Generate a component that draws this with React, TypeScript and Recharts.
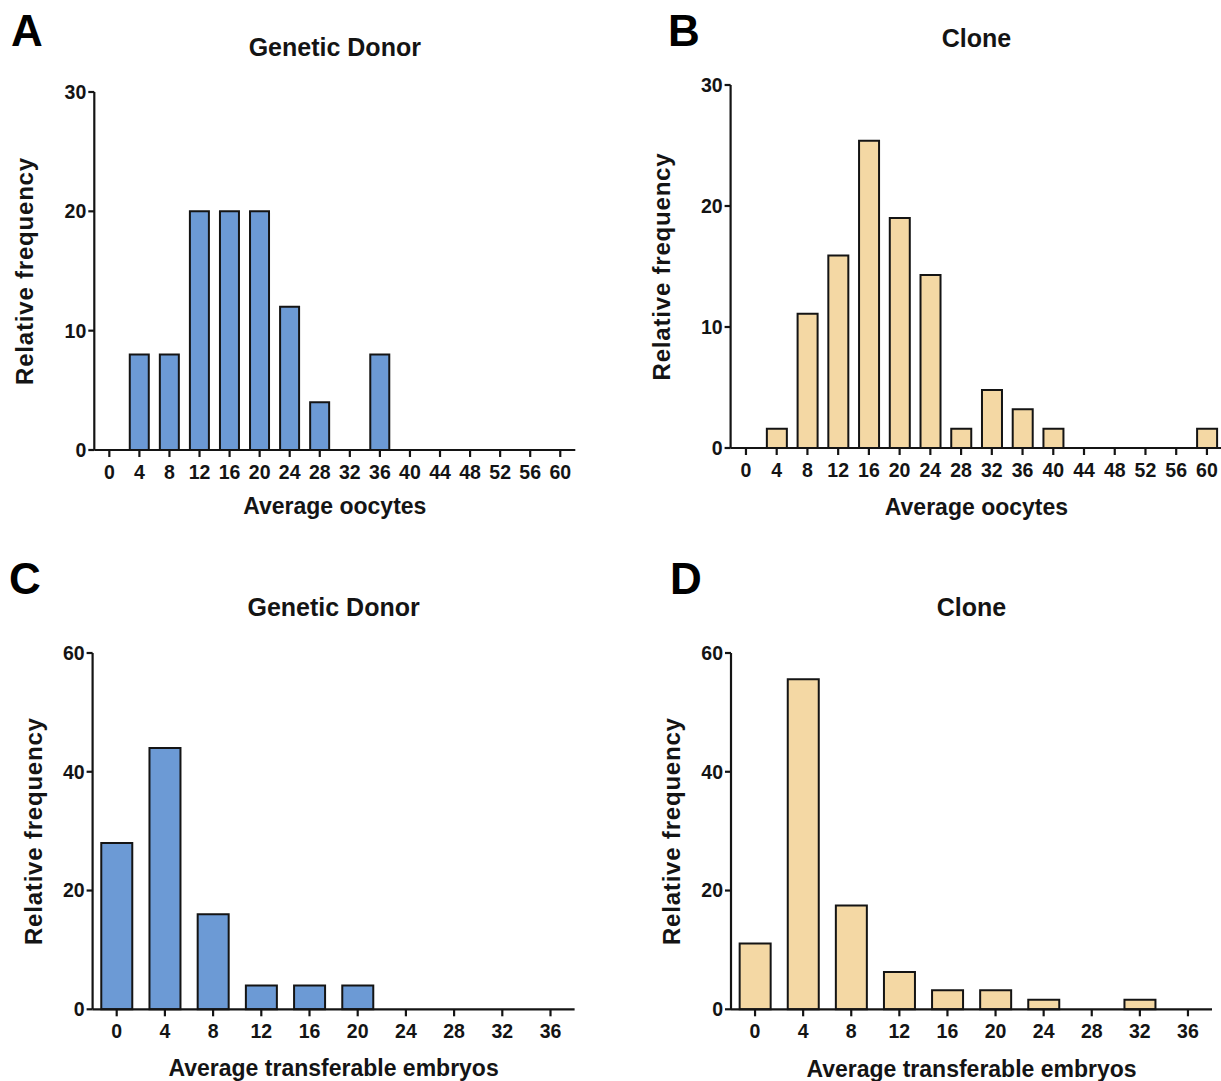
import React from "react";
import { Bar, BarChart, Label, XAxis, YAxis } from "recharts";

const FONT = '"Liberation Sans", Arial, Helvetica, sans-serif';

// bins (x categories)
const oocyteBins = ["0", "4", "8", "12", "16", "20", "24", "28", "32", "36", "40", "44", "48", "52", "56", "60"];
const embryoBins = ["0", "4", "8", "12", "16", "20", "24", "28", "32", "36"];

// relative frequency (%) per bin
const donorOocytes = [0, 8, 8, 20, 20, 20, 12, 4, 0, 8, 0, 0, 0, 0, 0, 0];
const cloneOocytes = [0, 1.6, 11.1, 15.9, 25.4, 19.0, 14.3, 1.6, 4.8, 3.2, 1.6, 0, 0, 0, 0, 1.6];
const donorEmbryos = [28, 44, 16, 4, 4, 4, 0, 0, 0, 0];
const cloneEmbryos = [11.1, 55.6, 17.5, 6.3, 3.2, 3.2, 1.6, 0, 1.6, 0];

const oocyteTicks = [0, 10, 20, 30];
const embryoTicks = [0, 20, 40, 60];

const BLUE = "#6c9ad5";
const PEACH = "#f4d8a4";
const INK = "#141414";

const axisLine = { stroke: INK, strokeWidth: 2.2 };
const tickText = { fill: INK, fontSize: 19.5, fontWeight: 700, fontFamily: FONT };

type Box = { l: number; r: number; t: number; b: number };

type PanelProps = {
  left: number;
  top: number;
  width: number;
  height: number;
  plot: Box;
  bins: string[];
  values: number[];
  yTicks: number[];
  fill: string;
  letter: string;
  letterPos: [number, number];
  title: string;
  titleBaseline: number;
  xLabel: string;
  xLabelY: number;
  yLabelX: number;
};

function Panel(p: PanelProps) {
  const data = p.bins.map((bin, i) => ({ bin, freq: p.values[i] }));
  const yAxisW = 50;
  const xAxisH = 60;
  const margin = {
    top: p.plot.t - p.top,
    right: p.left + p.width - p.plot.r,
    bottom: p.top + p.height - p.plot.b - xAxisH,
    left: p.plot.l - p.left - yAxisW,
  };
  const cx = (p.plot.l + p.plot.r) / 2 - p.left;
  const cy = (p.plot.t + p.plot.b) / 2 - p.top;

  return (
    <div style={{ position: "absolute", left: p.left, top: p.top, width: p.width, height: p.height }}>
      <BarChart width={p.width} height={p.height} data={data} margin={margin} barCategoryGap="18%">
        <XAxis
          dataKey="bin"
          interval={0}
          height={xAxisH}
          tickSize={7}
          tickMargin={8}
          axisLine={axisLine}
          tickLine={axisLine}
          tick={tickText}
        >
          <Label
            content={() => (
              <text
                x={cx}
                y={p.xLabelY - p.top}
                textAnchor="middle"
                style={{ fontFamily: FONT, fontWeight: 700, fontSize: 23, fill: INK }}
              >
                {p.xLabel}
              </text>
            )}
          />
        </XAxis>
        <YAxis
          type="number"
          domain={[0, p.yTicks[p.yTicks.length - 1]]}
          ticks={p.yTicks}
          interval={0}
          width={yAxisW}
          tickSize={6}
          tickMargin={2}
          axisLine={axisLine}
          tickLine={axisLine}
          tick={tickText}
        >
          <Label
            content={() => (
              <text
                transform={`translate(${p.yLabelX - p.left}, ${cy}) rotate(-90)`}
                textAnchor="middle"
                dominantBaseline="central"
                style={{ fontFamily: FONT, fontWeight: 700, fontSize: 24, letterSpacing: 0.8, fill: INK }}
              >
                Relative frequency
              </text>
            )}
          />
        </YAxis>
        <Bar dataKey="freq" fill={p.fill} stroke={INK} strokeWidth={2} isAnimationActive={false} />
      </BarChart>

      <div
        style={{
          position: "absolute",
          left: cx - 200,
          width: 400,
          top: p.titleBaseline - p.top - 21.2,
          textAlign: "center",
          fontFamily: FONT,
          fontWeight: 700,
          fontSize: 25,
          lineHeight: "25px",
          color: INK,
        }}
      >
        {p.title}
      </div>
      <div
        style={{
          position: "absolute",
          left: p.letterPos[0] - p.left,
          top: p.letterPos[1] - p.top - 37.2,
          fontFamily: FONT,
          fontWeight: 700,
          fontSize: 44,
          lineHeight: "44px",
          color: "#000",
        }}
      >
        {p.letter}
      </div>
    </div>
  );
}

export default function App() {
  return (
    <div
      style={{
        position: "absolute",
        left: 0,
        top: 0,
        width: 1221,
        height: 1081,
        overflow: "hidden",
        background: "#fff",
      }}
    >
      <Panel
        left={0}
        top={0}
        width={610}
        height={560}
        plot={{ l: 94.3, r: 575.3, t: 92, b: 450 }}
        bins={oocyteBins}
        values={donorOocytes}
        yTicks={oocyteTicks}
        fill={BLUE}
        letter="A"
        letterPos={[11, 46]}
        title="Genetic Donor"
        titleBaseline={56}
        xLabel="Average oocytes"
        xLabelY={514}
        yLabelX={24}
      />
      <Panel
        left={610}
        top={0}
        width={613}
        height={560}
        plot={{ l: 730.6, r: 1222.3, t: 85, b: 448 }}
        bins={oocyteBins}
        values={cloneOocytes}
        yTicks={oocyteTicks}
        fill={PEACH}
        letter="B"
        letterPos={[668, 46]}
        title="Clone"
        titleBaseline={47.5}
        xLabel="Average oocytes"
        xLabelY={515}
        yLabelX={661}
      />
      <Panel
        left={0}
        top={560}
        width={610}
        height={521}
        plot={{ l: 92.6, r: 574.6, t: 653, b: 1009.3 }}
        bins={embryoBins}
        values={donorEmbryos}
        yTicks={embryoTicks}
        fill={BLUE}
        letter="C"
        letterPos={[9, 594]}
        title="Genetic Donor"
        titleBaseline={616}
        xLabel="Average transferable embryos"
        xLabelY={1076}
        yLabelX={33}
      />
      <Panel
        left={610}
        top={560}
        width={611}
        height={521}
        plot={{ l: 731, r: 1212, t: 653, b: 1009.3 }}
        bins={embryoBins}
        values={cloneEmbryos}
        yTicks={embryoTicks}
        fill={PEACH}
        letter="D"
        letterPos={[670, 594]}
        title="Clone"
        titleBaseline={616}
        xLabel="Average transferable embryos"
        xLabelY={1077}
        yLabelX={671}
      />
    </div>
  );
}
